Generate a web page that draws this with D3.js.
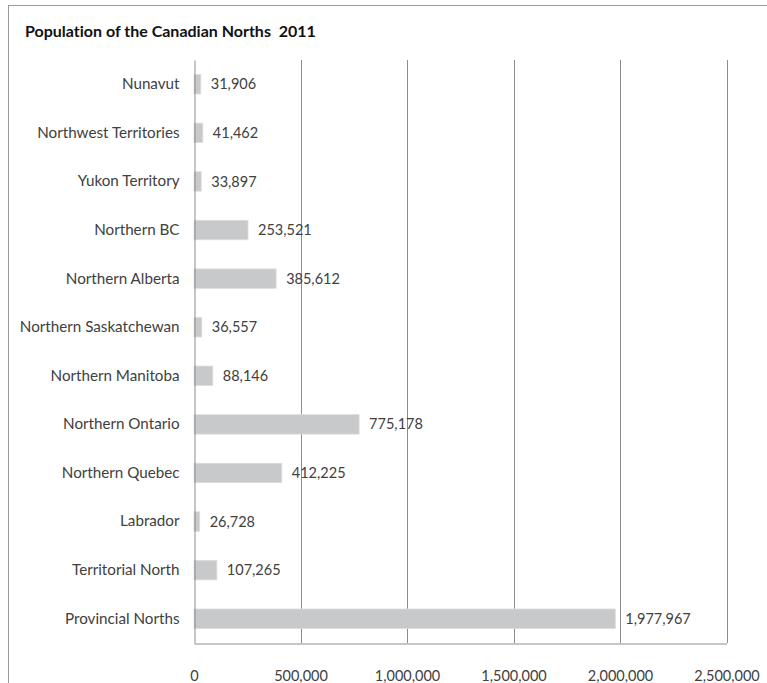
<!DOCTYPE html>
<html>
<head>
<meta charset="utf-8">
<script src="https://cdn.jsdelivr.net/npm/d3@7"></script>
<style>
  html, body { margin: 0; padding: 0; background: #fff; }
  svg { display: block; }
  text { font-family: Lato, "Open Sans", sans-serif; fill: #404040; font-variant-ligatures: none; white-space: pre; }
</style>
</head>
<body>
<svg id="chart" width="767" height="683"></svg>
<script>
// Population by region, 2011
const regions = [
  "Nunavut", "Northwest Territories", "Yukon Territory", "Northern BC",
  "Northern Alberta", "Northern Saskatchewan", "Northern Manitoba",
  "Northern Ontario", "Northern Quebec", "Labrador", "Territorial North",
  "Provincial Norths"
];
const population = [
  31906, 41462, 33897, 253521, 385612, 36557, 88146,
  775178, 412225, 26728, 107265, 1977967
];
const xTicks = [0, 500000, 1000000, 1500000, 2000000, 2500000];
const title = "Population of the Canadian Norths  2011";

const svg = d3.select("#chart");
const W = 767, H = 683;
const plot = { left: 194, right: 726.5, top: 60, bottom: 643 };

// outer frame
svg.append("rect")
  .attr("x", 8.5).attr("y", 5.5)
  .attr("width", W - 8.5 + 2).attr("height", H)
  .attr("fill", "none").attr("stroke", "#9a9a9a").attr("stroke-width", 1);

svg.append("text")
  .attr("x", 25).attr("y", 37)
  .attr("font-size", 16).attr("font-weight", "bold")
  .style("fill", "#111")
  .text(title);

const x = d3.scaleLinear().domain([0, 2500000]).range([plot.left, plot.right]);
const y = d3.scaleBand().domain(regions).range([plot.top, plot.bottom]).paddingInner(0.6).paddingOuter(0.3);

// vertical gridlines
svg.append("g").selectAll("line")
  .data(xTicks.slice(1))
  .join("line")
  .attr("x1", d => Math.round(x(d)) + 0.5).attr("x2", d => Math.round(x(d)) + 0.5)
  .attr("y1", plot.top).attr("y2", plot.bottom)
  .attr("stroke", "#8c8c8c").attr("stroke-width", 1);

// bars
svg.append("g").selectAll("rect")
  .data(regions)
  .join("rect")
  .attr("x", x(0))
  .attr("y", d => y(d))
  .attr("width", (d, i) => x(population[i]) - x(0))
  .attr("height", y.bandwidth())
  .attr("fill", "#c8c9ca")
  .attr("stroke", "#dcdcdc").attr("stroke-width", 0.8);

// value labels
const fmt = d3.format(",");
svg.append("g").selectAll("text")
  .data(regions)
  .join("text")
  .attr("x", (d, i) => x(population[i]) + 10)
  .attr("y", d => y(d) + y.bandwidth() / 2)
  .attr("dy", "0.35em")
  .attr("font-size", 14.5)
  .text((d, i) => fmt(population[i]));

// category axis
const yAxis = svg.append("g")
  .attr("transform", `translate(${plot.left + 0.5},0)`)
  .call(d3.axisLeft(y).tickSize(0).tickPadding(15));
yAxis.select(".domain").attr("stroke", "#8c8c8c");
yAxis.selectAll("text").attr("font-size", 15.2).style("fill", "#404040")
  .style("font-family", "Lato, 'Open Sans', sans-serif");

// value axis
const xAxis = svg.append("g")
  .attr("transform", `translate(0,${plot.bottom + 0.5})`)
  .call(d3.axisBottom(x).tickValues(xTicks).tickFormat(fmt).tickSize(0).tickPadding(27));
xAxis.select(".domain").attr("stroke", "#8c8c8c");
xAxis.selectAll("text").attr("font-size", 14.5).style("fill", "#404040")
  .style("font-family", "Lato, 'Open Sans', sans-serif");
</script>
</body>
</html>
